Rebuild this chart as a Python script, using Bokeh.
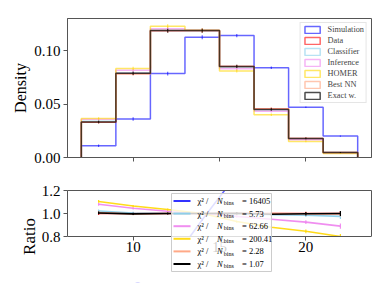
from bokeh.plotting import figure
from bokeh.models import (Range1d, FixedTicker, PrintfTickFormatter, Legend,
                          LegendItem, LinearAxis)
from bokeh.core.properties import value
from bokeh.layouts import column
from bokeh.embed import file_html
from bokeh.resources import INLINE

# ---------------- data ----------------
bin_edges = [7, 9, 11, 13, 15, 17, 19, 21, 23]
bin_centers = [8, 10, 12, 14, 16, 18, 20, 22]

series_names = ["Simulation", "Data", "Classifier", "Inference", "HOMER", "Best NN", "Exact w."]
series_colors = ["#0000ff", "#ff0000", "#87ceeb", "#ee82ee", "#ffd700", "#ffa07a", "#000000"]

sim_density = [0.0110, 0.0360, 0.0785, 0.1125, 0.1140, 0.0840, 0.0470, 0.0200]
data_density = [0.0330, 0.0785, 0.1185, 0.1185, 0.0850, 0.0455, 0.0178, 0.0047]
classifier_density = [0.0338, 0.0790, 0.1188, 0.1185, 0.0845, 0.0450, 0.0175, 0.0046]
inference_density = [0.0358, 0.0815, 0.1205, 0.1190, 0.0830, 0.0432, 0.0165, 0.0042]
homer_density = [0.0364, 0.0832, 0.1228, 0.1190, 0.0810, 0.0400, 0.0150, 0.0038]
bestnn_density = [0.0333, 0.0782, 0.1187, 0.1187, 0.0852, 0.0455, 0.0178, 0.0047]
exact_density = [0.0332, 0.0787, 0.1187, 0.1187, 0.0852, 0.0450, 0.0178, 0.0047]
density_err = [0.0012, 0.0016, 0.0018, 0.0018, 0.0016, 0.0012, 0.0008, 0.0005]

sim_ratio = [0.25, 0.38, 0.53, 0.945, 1.34, 1.85, 2.64, 4.26]
data_ratio = [1.0, 1.0, 1.0, 1.0, 1.0, 1.0, 1.0, 1.0]
classifier_ratio = [1.022, 1.005, 1.0, 1.0, 0.995, 0.99, 0.985, 0.975]
inference_ratio = [1.08, 1.045, 1.02, 1.0, 0.975, 0.95, 0.925, 0.89]
homer_ratio = [1.105, 1.065, 1.035, 1.0, 0.93, 0.88, 0.845, 0.80]
bestnn_ratio = [1.008, 0.995, 1.0, 1.0, 1.0, 1.0, 0.998, 0.995]
exact_ratio = [1.005, 0.997, 1.0, 1.0, 1.002, 0.993, 0.998, 1.0]
ratio_err = [0.012, 0.010, 0.008, 0.008, 0.010, 0.012, 0.016, 0.022]

chi2_names = ["Simulation", "Classifier", "Inference", "HOMER", "Best NN", "Exact w."]
chi2_values = ["16405", "5.73", "62.66", "200.41", "2.28", "1.07"]

density_ticks = [0.0, 0.05, 0.10]
ratio_ticks = [0.8, 1.0, 1.2]
x_ticks = [10, 15, 20]

densities = [sim_density, data_density, classifier_density, inference_density,
             homer_density, bestnn_density, exact_density]
ratios = [sim_ratio, data_ratio, classifier_ratio, inference_ratio,
          homer_ratio, bestnn_ratio, exact_ratio]

# ---------------- style ----------------
FONT = "Liberation Serif"
SPINE = "#555555"
W = 381
H1 = 183
H2 = 107
hist_alpha = [0.6, 0.6, 0.6, 0.6, 0.6, 0.6, 0.7]
ratio_alpha = [0.6, 0.8, 0.9, 0.9, 0.9, 0.9, 1.0]

x_range = Range1d(6.2, 23.8)
RATIO_LO, RATIO_HI = 0.8, 1.2


def style_axis(ax):
    ax.axis_line_color = SPINE
    ax.major_tick_line_color = SPINE
    ax.minor_tick_line_color = None
    ax.major_tick_in = 0
    ax.major_tick_out = 4
    ax.major_label_text_font = FONT
    ax.major_label_text_font_size = "15px"
    ax.major_label_text_color = "black"
    ax.major_label_standoff = 3
    ax.axis_label_text_font = FONT
    ax.axis_label_text_font_style = "normal"
    ax.axis_label_text_color = "black"


def style(p):
    p.background_fill_color = "white"
    p.border_fill_color = "white"
    p.xgrid.visible = False
    p.ygrid.visible = False
    style_axis(p.xaxis[0])
    style_axis(p.yaxis[0])


# ---------------- top: histograms ----------------
p1 = figure(width=W, height=H1, x_range=x_range, y_range=Range1d(0, 0.13),
            output_backend="svg", toolbar_location=None,
            min_border_left=67, min_border_right=10, min_border_top=18, min_border_bottom=26)
style(p1)
p1.outline_line_color = SPINE
p1.xaxis.ticker = FixedTicker(ticks=x_ticks)
p1.xaxis.major_label_text_color = None   # shared x axis: ticks only
p1.yaxis.ticker = FixedTicker(ticks=density_ticks)
p1.yaxis.formatter = PrintfTickFormatter(format="%.2f")
p1.yaxis.axis_label = "Density"
p1.yaxis.axis_label_text_font_size = "16px"
p1.yaxis.axis_label_standoff = 2

legend_items = []
for name, col, dens, a in zip(series_names, series_colors, densities, hist_alpha):
    xs = [bin_edges[0]]
    ys = [0.0]
    for i, v in enumerate(dens):
        xs += [bin_edges[i], bin_edges[i + 1]]
        ys += [v, v]
    xs.append(bin_edges[-1])
    ys.append(0.0)
    p1.line(xs, ys, line_color=col, line_alpha=a, line_width=1.5)
    p1.segment(x0=bin_centers, x1=bin_centers,
               y0=[v - e for v, e in zip(dens, density_err)],
               y1=[v + e for v, e in zip(dens, density_err)],
               line_color=col, line_alpha=a, line_width=1.2)
    q = p1.quad(left=bin_edges[:-1], right=bin_edges[1:], top=dens, bottom=0,
                fill_alpha=0, line_color=col, line_alpha=a, line_width=1.5)
    q.visible = False
    legend_items.append(LegendItem(label=name, renderers=[q]))

leg1 = Legend(items=legend_items, location="top_right", margin=4, padding=2,
              spacing=2, glyph_width=19, glyph_height=9, label_height=9,
              label_standoff=6, label_text_font=FONT, label_text_font_size="8.3px",
              background_fill_alpha=0.8, border_line_color="#cccccc",
              border_line_width=1, click_policy="none")
p1.add_layout(leg1)

# ---------------- bottom: ratios ----------------
# frame extended below the ratio window so the legend can hang below it
p2 = figure(width=W, height=H2, x_range=x_range, y_range=Range1d(0.4, RATIO_HI),
            output_backend="svg", toolbar_location=None,
            min_border_left=67, min_border_right=10, min_border_top=7, min_border_bottom=8)
style(p2)
p2.outline_line_color = None
p2.xaxis.ticker = FixedTicker(ticks=x_ticks)
p2.xaxis.fixed_location = RATIO_LO
p2.xaxis.major_label_standoff = 1
p2.yaxis.ticker = FixedTicker(ticks=ratio_ticks)
p2.yaxis.formatter = PrintfTickFormatter(format="%.1f")
p2.yaxis.bounds = (RATIO_LO, RATIO_HI)
p2.yaxis.axis_label = "Ratio"
p2.yaxis.axis_label_text_font_size = "17px"
p2.yaxis.axis_label_standoff = 0

# top and right spines
top_ax = LinearAxis(ticker=FixedTicker(ticks=[]), axis_line_color=SPINE,
                    major_tick_out=0, major_tick_in=0, minor_tick_line_color=None)
p2.add_layout(top_ax, "above")
right_ax = LinearAxis(ticker=FixedTicker(ticks=[]), axis_line_color=SPINE,
                      major_tick_out=0, major_tick_in=0, minor_tick_line_color=None,
                      bounds=(RATIO_LO, RATIO_HI))
p2.add_layout(right_ax, "right")

for name, col, rat, a in zip(series_names, series_colors, ratios, ratio_alpha):
    p2.line(bin_centers, rat, line_color=col, line_alpha=a, line_width=1.6)
    p2.segment(x0=bin_centers, x1=bin_centers,
               y0=[v - e for v, e in zip(rat, ratio_err)],
               y1=[v + e for v, e in zip(rat, ratio_err)],
               line_color=col, line_alpha=a, line_width=1.2)

# white mask: hide what falls below the ratio window (acts as clipping)
p2.quad(left=x_range.start - 1, right=x_range.end + 1, bottom=0.0, top=RATIO_LO,
        fill_color="white", fill_alpha=1.0, line_color=None)

# ---- chi2 legend, drawn on top of everything (hangs below the ratio panel) ----
x0d, x1d = 6.2, 23.8
fx0, fw = 67.0, 304.0
fy0 = 190.0


def dx(px):
    return x0d + (px - fx0) * (x1d - x0d) / fw


def dy(py):
    return RATIO_HI - (py - fy0) / 115.0


n_rows = len(chi2_names)
row_px = [200.5 + 12.6 * i for i in range(n_rows)]
row_y = [dy(r) for r in row_px]

p2.quad(left=[dx(171)], right=[dx(271)], top=[dy(193)], bottom=[dy(271)],
        fill_color="white", fill_alpha=0.8, line_color="#cccccc", line_width=1,
        level="overlay")
name_to_col = dict(zip(series_names, series_colors))
name_to_alpha = dict(zip(series_names, ratio_alpha))
p2.segment(x0=[dx(173)] * n_rows, x1=[dx(190)] * n_rows, y0=row_y, y1=row_y,
           line_color=[name_to_col[n] for n in chi2_names],
           line_alpha=[max(name_to_alpha[n], 0.8) for n in chi2_names],
           line_width=2, level="overlay")
tcommon = dict(text_font=value(FONT), text_color="black", text_baseline="middle",
               text_align="left", level="overlay")
p2.text(x=[dx(197)] * n_rows, y=row_y, text=["χ² /"] * n_rows,
        text_font_size="8.5px", **tcommon)
p2.text(x=[dx(216.5)] * n_rows, y=row_y, text=["N"] * n_rows,
        text_font_size="8.5px", text_font_style="italic", **tcommon)
p2.text(x=[dx(223.3)] * n_rows, y=[dy(r + 2.2) for r in row_px], text=["bins"] * n_rows,
        text_font_size="6px", **tcommon)
p2.text(x=[dx(241.5)] * n_rows, y=row_y, text=["= " + v for v in chi2_values],
        text_font_size="8.5px", **tcommon)

layout = column(p1, p2)
open("out.html", "w").write(file_html(layout, INLINE))
